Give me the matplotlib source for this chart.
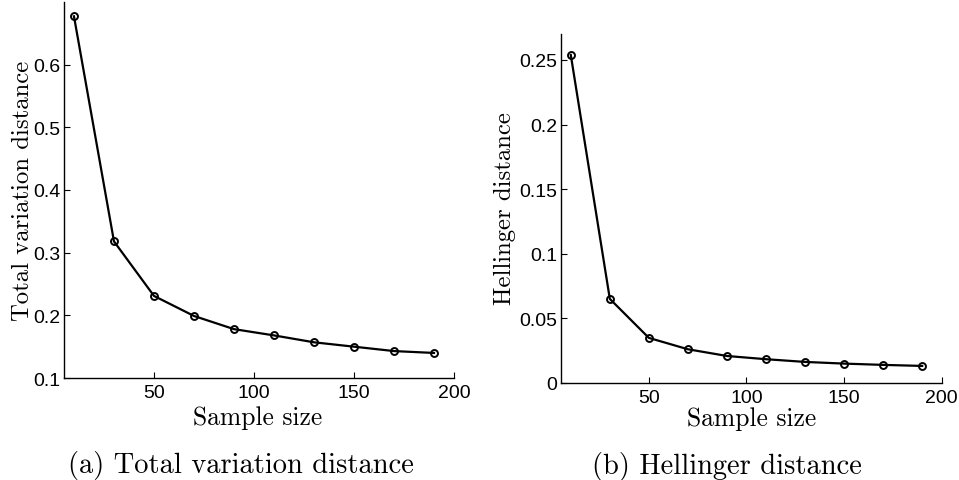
import matplotlib
matplotlib.use("Agg")
import matplotlib.pyplot as plt

# -----------------------------
# Data
# -----------------------------

sample_size = [10, 30, 50, 70, 90, 110, 130, 150, 170, 190]
tv_distance = [0.677, 0.318, 0.231, 0.199, 0.178, 0.168, 0.157, 0.150, 0.143, 0.140]
hellinger = [0.2539, 0.0651, 0.0349, 0.0261, 0.0209, 0.0184, 0.0163, 0.0150, 0.0140, 0.0132]

x_ticks = [50, 100, 150, 200]
tv_ticks = [0.1, 0.2, 0.3, 0.4, 0.5, 0.6]
tv_ticklabels = ["0.1", "0.2", "0.3", "0.4", "0.5", "0.6"]
hel_ticks = [0, 0.05, 0.1, 0.15, 0.2, 0.25]
hel_ticklabels = ["0", "0.05", "0.1", "0.15", "0.2", "0.25"]

SERIF = "cmr10"
SANS = "Liberation Sans"

# -----------------------------
# Figure
# -----------------------------

fig = plt.figure(figsize=(9.59, 4.81), dpi=100)

ax1 = fig.add_axes([0.0667, 0.212, 0.4067, 0.782])
ax2 = fig.add_axes([0.585, 0.2017, 0.397, 0.7253])


def draw_panel(ax, values, yticks, yticklabels, ylim):
    ax.plot(sample_size, values, color="black", linewidth=1.6,
            marker="o", markersize=5, markerfacecolor="none", markeredgewidth=1.4,
            clip_on=False)
    ax.set_xlim(5, 200)
    ax.set_ylim(*ylim)
    ax.set_xticks(x_ticks)
    ax.set_xticklabels([str(t) for t in x_ticks], fontfamily=SANS, fontsize=14)
    ax.set_yticks(yticks)
    ax.set_yticklabels(yticklabels, fontfamily=SANS, fontsize=14)
    ax.spines["top"].set_visible(False)
    ax.spines["right"].set_visible(False)
    ax.spines["left"].set_linewidth(1.0)
    ax.spines["bottom"].set_linewidth(1.0)
    ax.tick_params(direction="in", length=4, width=0.8)
    ax.tick_params(axis="y", pad=2.5)
    ax.tick_params(axis="x", pad=4)


draw_panel(ax1, tv_distance, tv_ticks, tv_ticklabels, (0.1, 0.7))
draw_panel(ax2, hellinger, hel_ticks, hel_ticklabels, (0, 0.27))

# axis labels
ax1.set_xlabel("Sample size", fontfamily=SERIF, fontsize=18.4, va="center")
ax1.xaxis.set_label_coords(0.497, -0.104)
ax1.set_ylabel("Total variation distance", fontfamily=SERIF, fontsize=17.8, va="center")
ax1.yaxis.set_label_coords(-0.105, 0.5)

ax2.set_xlabel("Sample size", fontfamily=SERIF, fontsize=18.4, va="center")
ax2.xaxis.set_label_coords(0.501, -0.101)
ax2.set_ylabel("Hellinger distance", fontfamily=SERIF, fontsize=17.8, va="center")
ax2.yaxis.set_label_coords(-0.147, 0.504)

# captions
fig.text(241 / 959, 1 - 466 / 481, "(a) Total variation distance",
         fontfamily=SERIF, fontsize=20.5, ha="center", va="center")
fig.text(727 / 959, 1 - 467 / 481, "(b) Hellinger distance",
         fontfamily=SERIF, fontsize=20.5, ha="center", va="center")

fig.savefig("out.png", dpi=100)
